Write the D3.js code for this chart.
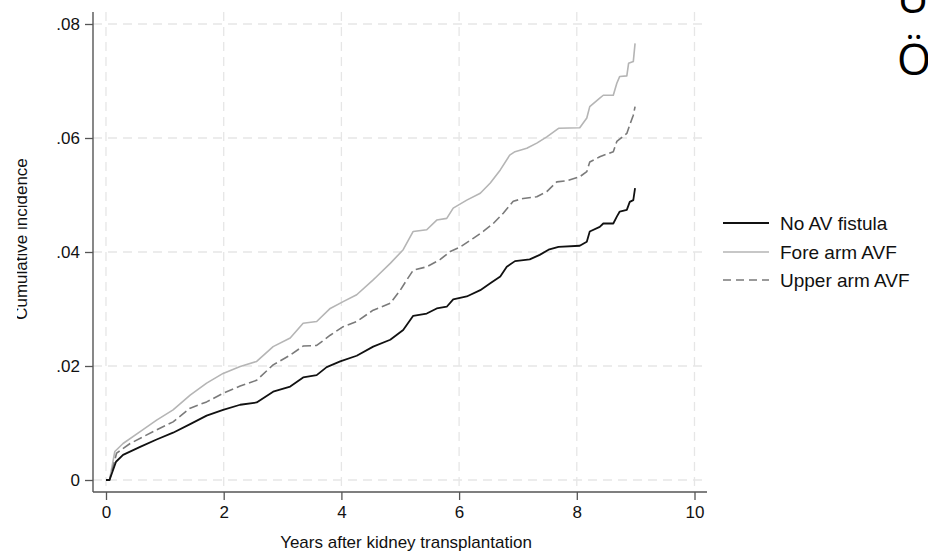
<!DOCTYPE html>
<html><head><meta charset="utf-8">
<script src="https://cdn.jsdelivr.net/npm/d3@7"></script>
<style>html,body{margin:0;padding:0;background:#fff;}svg{display:block;}</style>
</head><body>
<script>
const seriesNames = ["No AV fistula", "Fore arm AVF", "Upper arm AVF"];
const xTicks = [0, 2, 4, 6, 8, 10];
const yTicks = [0, 0.02, 0.04, 0.06, 0.08];
const yTickLabels = ["0", ".02", ".04", ".06", ".08"];
const xTitle = "Years after kidney transplantation";
const yTitle = "Cumulative incidence";

const noAvf = [[0,0],[0.06,0],[0.17,0.0032],[0.29,0.0044],[0.58,0.0058],[0.86,0.0071],[1.14,0.0083],[1.43,0.0098],[1.71,0.0113],[1.99,0.0123],[2.28,0.0132],[2.56,0.0136],[2.84,0.0155],[3.13,0.0164],[3.35,0.0180],[3.58,0.0184],[3.75,0.0198],[3.98,0.0208],[4.26,0.0218],[4.54,0.0234],[4.83,0.0246],[5.05,0.0263],[5.22,0.0288],[5.45,0.0292],[5.62,0.0301],[5.79,0.0304],[5.90,0.0317],[6.13,0.0322],[6.36,0.0333],[6.53,0.0345],[6.70,0.0357],[6.81,0.0374],[6.95,0.0384],[7.20,0.0387],[7.37,0.0395],[7.52,0.0404],[7.69,0.0409],[8.05,0.0411],[8.17,0.0418],[8.22,0.0436],[8.39,0.0444],[8.45,0.0450],[8.62,0.0450],[8.68,0.0462],[8.73,0.0471],[8.85,0.0474],[8.90,0.0488],[8.96,0.0491],[8.99,0.0512]];
const foreArm = [[0,0],[0.06,0],[0.15,0.0050],[0.29,0.0064],[0.58,0.0085],[0.86,0.0105],[1.14,0.0123],[1.43,0.0149],[1.71,0.0170],[1.99,0.0187],[2.28,0.0199],[2.56,0.0208],[2.84,0.0234],[3.13,0.0249],[3.35,0.0275],[3.58,0.0278],[3.81,0.0301],[4.03,0.0313],[4.26,0.0325],[4.54,0.0351],[4.60,0.0357],[4.83,0.0380],[5.05,0.0404],[5.22,0.0436],[5.45,0.0439],[5.62,0.0456],[5.79,0.0459],[5.90,0.0477],[6.13,0.0491],[6.36,0.0503],[6.53,0.0521],[6.70,0.0544],[6.86,0.0570],[6.95,0.0576],[7.15,0.0582],[7.32,0.0591],[7.49,0.0602],[7.69,0.0617],[8.05,0.0618],[8.17,0.0635],[8.22,0.0655],[8.39,0.0670],[8.45,0.0675],[8.62,0.0675],[8.68,0.0696],[8.73,0.0708],[8.85,0.0709],[8.88,0.0731],[8.96,0.0734],[8.99,0.0766]];
const upperArm = [[0,0],[0.06,0],[0.18,0.0047],[0.41,0.0064],[0.86,0.0088],[1.14,0.0102],[1.43,0.0126],[1.71,0.0137],[1.99,0.0152],[2.28,0.0165],[2.56,0.0175],[2.84,0.0202],[3.13,0.0219],[3.35,0.0235],[3.58,0.0236],[3.81,0.0254],[4.03,0.0269],[4.26,0.0278],[4.54,0.0298],[4.83,0.0310],[5.00,0.0333],[5.11,0.0351],[5.22,0.0368],[5.45,0.0374],[5.68,0.0387],[5.85,0.0401],[6.02,0.0409],[6.24,0.0424],[6.41,0.0436],[6.58,0.0450],[6.75,0.0468],[6.92,0.0489],[7.09,0.0494],[7.32,0.0497],[7.49,0.0506],[7.66,0.0523],[7.83,0.0525],[8.05,0.0532],[8.17,0.0541],[8.22,0.0558],[8.39,0.0567],[8.62,0.0576],[8.68,0.0594],[8.85,0.0608],[8.90,0.0623],[8.96,0.0640],[8.99,0.0655]];
const seriesData = [noAvf, foreArm, upperArm];

const W = 928, H = 553;
const svg = d3.select("body").append("svg").attr("width", W).attr("height", H)
  .style("font-family", "'Liberation Sans', Arial, sans-serif");

const x = d3.scaleLinear().domain([0, 10]).range([106, 694.5]);
const y = d3.scaleLinear().domain([0, 0.08]).range([480, 24]);
const pLeft = 93, pRight = 707, pTop = 12, pBottom = 492;

// grid
const grid = svg.append("g");
grid.selectAll("line.gx").data(xTicks).join("line").attr("class", "gx")
  .attr("x1", d => x(d)).attr("x2", d => x(d)).attr("y1", pTop).attr("y2", pBottom)
  .attr("stroke", "#e6e6e6").attr("stroke-width", 1.3).attr("stroke-dasharray", "9,6");
grid.selectAll("line.gy").data(yTicks).join("line").attr("class", "gy")
  .attr("x1", pLeft).attr("x2", pRight).attr("y1", d => y(d)).attr("y2", d => y(d))
  .attr("stroke", "#e6e6e6").attr("stroke-width", 1.3).attr("stroke-dasharray", "9,6");

// axes
const xAxis = d3.axisBottom(x).tickValues(xTicks).tickSize(8).tickPadding(6).tickSizeOuter(0);
const yAxis = d3.axisLeft(y).tickValues(yTicks).tickFormat((d, i) => yTickLabels[i]).tickSize(8).tickPadding(5).tickSizeOuter(0);
const gx = svg.append("g").attr("transform", `translate(0,${pBottom})`).call(xAxis);
const gy = svg.append("g").attr("transform", `translate(${pLeft},0)`).call(yAxis);
gx.select(".domain").attr("d", `M${pLeft},0H${pRight}`);
gy.select(".domain").attr("d", `M0,${pTop}V${pBottom}`);
[gx, gy].forEach(g => {
  g.select(".domain").attr("stroke", "#555").attr("stroke-width", 1.4);
  g.selectAll(".tick line").attr("stroke", "#555").attr("stroke-width", 1.3);
  g.selectAll(".tick text").attr("fill", "#111").style("font-size", "17px").style("font-family", "'Liberation Sans', Arial, sans-serif");
});

// lines
const styles = [
  {stroke: "#111", width: 1.8, dash: null},
  {stroke: "#b5b5b5", width: 1.6, dash: null},
  {stroke: "#7a7a7a", width: 1.6, dash: "9,4"}
];
const line = d3.line().x(d => x(d[0])).y(d => y(d[1]));
const order = [1, 2, 0];
order.forEach(i => {
  svg.append("path").datum(seriesData[i]).attr("d", line).attr("fill", "none")
    .attr("stroke", styles[i].stroke).attr("stroke-width", styles[i].width)
    .attr("stroke-dasharray", styles[i].dash).attr("stroke-linejoin", "round");
});

// legend
const legY = [223, 252, 280];
const leg = svg.append("g");
seriesNames.forEach((n, i) => {
  leg.append("line").attr("x1", 723).attr("x2", 769).attr("y1", legY[i]).attr("y2", legY[i])
    .attr("stroke", styles[i].stroke).attr("stroke-width", styles[i].width)
    .attr("stroke-dasharray", i === 2 ? "8,5" : null);
  leg.append("text").attr("x", 780).attr("y", legY[i] + 6.5).text(n)
    .attr("fill", "#111").style("font-size", "19px");
});

// titles
svg.append("text").attr("x", 406).attr("y", 548).attr("text-anchor", "middle")
  .attr("fill", "#111").style("font-size", "17px").text(xTitle);

const clip = svg.append("defs").append("clipPath").attr("id", "yclip");
clip.append("rect").attr("x", 17).attr("y", 0).attr("width", 60).attr("height", H);
svg.append("g").attr("clip-path", "url(#yclip)").append("text")
  .attr("transform", "translate(27,239) rotate(-90)").attr("text-anchor", "middle")
  .attr("fill", "#111").style("font-size", "17px").text(yTitle);

// cut-off slide text at top right
svg.append("text").attr("x", 897).attr("y", 13).attr("fill", "#000")
  .style("font-family", "'Open Sans', sans-serif").style("font-size", "44px").text("U");
svg.append("text").attr("x", 897).attr("y", 75).attr("fill", "#000")
  .style("font-family", "'Open Sans', sans-serif").style("font-size", "44px").text("Ö");
</script>
</body></html>
